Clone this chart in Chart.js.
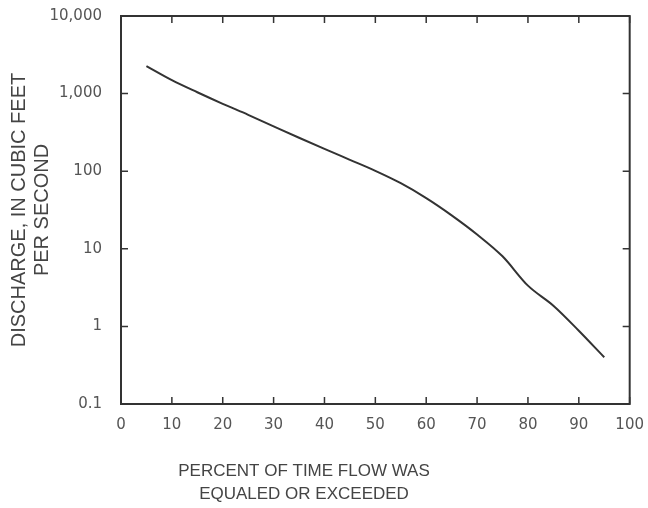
<!DOCTYPE html>
<html>
<head>
<meta charset="utf-8">
<script src="https://cdn.jsdelivr.net/npm/chart.js@4/dist/chart.umd.min.js"></script>
<style>
  html, body { margin: 0; padding: 0; background: #fff; }
  #wrap { width: 648px; height: 508px; }
</style>
</head>
<body>
<div id="wrap"><canvas id="flowChart" width="648" height="508"></canvas></div>
<script>
// Flow-duration curve, values.
const percentExceeded = [5, 10, 15, 20, 25, 30, 35, 40, 45, 50, 55, 60, 65, 70, 75, 80, 85, 90, 95];
const dischargeCfs = [2260, 1490, 1040, 738, 533, 379, 270, 194, 140, 101, 70, 45, 27, 15.3, 8.0, 3.35, 1.85, 0.88, 0.40];

const xTickValues = [0, 10, 20, 30, 40, 50, 60, 70, 80, 90, 100];
const yTickValues = [0.1, 1, 10, 100, 1000, 10000];
const yTickLabels = ["0.1", "1", "10", "100", "1,000", "10,000"];

const xTitleLines = ["PERCENT OF TIME FLOW WAS", "EQUALED OR EXCEEDED"];
const yTitleLines = ["DISCHARGE, IN CUBIC FEET", "PER SECOND"];

const frameColor = "#333";
const tickFont = { family: "'DejaVu Sans', sans-serif", size: 15 };

// Rahmen rund um die Zeichenflaeche plus Striche nach innen, auf allen vier Seiten.
const frameTicks = {
    id: "frameTicks",
    afterDatasetsDraw(chart) {
        const ctx = chart.ctx;
        const area = chart.chartArea;
        const xs = chart.scales.x;
        const ys = chart.scales.y;
        const len = 7;
        ctx.save();
        ctx.strokeStyle = frameColor;
        ctx.lineWidth = 2;
        ctx.strokeRect(area.left, area.top, area.right - area.left, area.bottom - area.top);
        ctx.lineWidth = 1.5;
        ctx.beginPath();
        xTickValues.forEach(function (v) {
            const px = xs.getPixelForValue(v);
            ctx.moveTo(px, area.bottom);
            ctx.lineTo(px, area.bottom - len);
            ctx.moveTo(px, area.top);
            ctx.lineTo(px, area.top + len);
        });
        yTickValues.forEach(function (v) {
            const py = ys.getPixelForValue(v);
            ctx.moveTo(area.left, py);
            ctx.lineTo(area.left + len, py);
            ctx.moveTo(area.right, py);
            ctx.lineTo(area.right - len, py);
        });
        ctx.stroke();
        ctx.restore();
    }
};

// X-Achsentitel sitzt im Original links von der Mitte, daher selbst gezeichnet.
const xTitle = {
    id: "xTitle",
    afterDraw(chart) {
        const ctx = chart.ctx;
        ctx.save();
        ctx.fillStyle = "#444";
        ctx.font = "17px 'Liberation Sans', Arial, sans-serif";
        ctx.textAlign = "center";
        ctx.textBaseline = "middle";
        xTitleLines.forEach(function (line, i) {
            ctx.fillText(line, 304, 471 + i * 23);
        });
        ctx.restore();
    }
};

const ctx = document.getElementById("flowChart");
const flowChart = new Chart(ctx, {
    type: "line",
    data: {
        datasets: [{
            data: percentExceeded.map((p, i) => ({ x: p, y: dischargeCfs[i] })),
            borderColor: "#333",
            borderWidth: 2,
            pointRadius: 0,
            cubicInterpolationMode: "monotone",
            fill: false
        }]
    },
    options: {
        responsive: false,
        animation: false,
        layout: {
            padding: { left: 0, top: 16, right: 16, bottom: 70 }
        },
        plugins: {
            legend: { display: false },
            tooltip: { enabled: false }
        },
        scales: {
            x: {
                type: "linear",
                min: 0,
                max: 100,
                afterBuildTicks: (scale) => { scale.ticks = xTickValues.map(v => ({ value: v })); },
                grid: { display: false },
                border: { display: false },
                ticks: {
                    color: "#555",
                    font: tickFont,
                    padding: 4,
                    maxRotation: 0,
                    autoSkip: false
                }
            },
            y: {
                type: "logarithmic",
                min: 0.1,
                max: 10000,
                afterBuildTicks: (scale) => { scale.ticks = yTickValues.map(v => ({ value: v })); },
                afterFit: (scale) => {
                    scale.width = 121;
                    scale.paddingTop = 0;
                    scale.paddingBottom = 0;
                },
                grid: { display: false },
                border: { display: false },
                ticks: {
                    color: "#555",
                    font: tickFont,
                    padding: 11,
                    autoSkip: false,
                    callback: function (value) {
                        const i = yTickValues.indexOf(value);
                        return i >= 0 ? yTickLabels[i] : "";
                    }
                },
                title: {
                    display: true,
                    text: yTitleLines,
                    color: "#444",
                    font: { family: "'Liberation Sans', Arial, sans-serif", size: 20, lineHeight: 1.15 },
                    padding: { top: 8, bottom: 4 }
                }
            }
        }
    },
    plugins: [frameTicks, xTitle]
});
</script>
</body>
</html>
